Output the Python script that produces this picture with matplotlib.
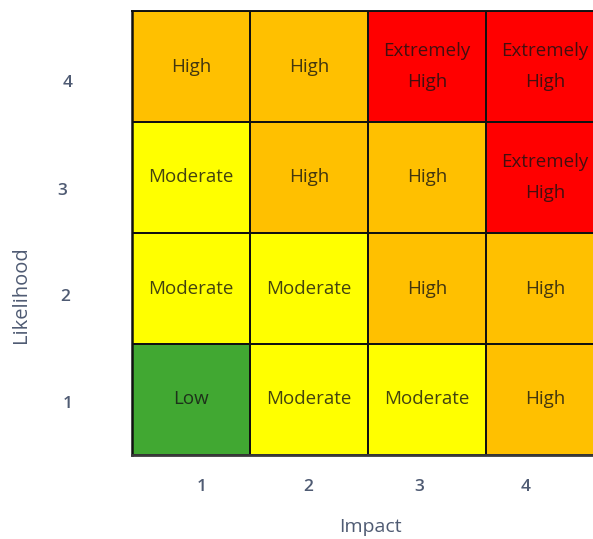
import matplotlib
matplotlib.use("Agg")
import matplotlib.pyplot as plt
from matplotlib.colors import ListedColormap
import numpy as np

# Risk matrix: rows = likelihood 1..4 (bottom to top), columns = impact 1..4
impact = [1, 2, 3, 4]
likelihood = [1, 2, 3, 4]
risk_levels = ["Low", "Moderate", "High", "Extremely High"]
level_colors = ["#41A832", "#FFFF00", "#FFC000", "#FF0000"]
risk_matrix = [
    ["Low", "Moderate", "Moderate", "High"],                      # likelihood 1
    ["Moderate", "Moderate", "High", "High"],                     # likelihood 2
    ["Moderate", "High", "High", "Extremely High"],               # likelihood 3
    ["High", "High", "Extremely High", "Extremely High"],         # likelihood 4
]

W, H, DPI = 593, 539, 100
fig = plt.figure(figsize=(W / DPI, H / DPI), dpi=DPI)
fig.patch.set_facecolor("white")

cell_w = 118.0  # px per column
ax_left, ax_top, ax_bottom = 132, 11, 455
ax = fig.add_axes([ax_left / W, 1 - ax_bottom / H, (W - ax_left) / W, (ax_bottom - ax_top) / H])

codes = np.array([[risk_levels.index(v) for v in row] for row in risk_matrix])
xe = np.arange(len(impact) + 1) + 0.5
ye = np.arange(len(likelihood) + 1) + 0.5
ax.pcolormesh(xe, ye, codes, cmap=ListedColormap(level_colors), vmin=-0.5, vmax=3.5,
              edgecolors="#111111", linewidth=1.1)

ax.set_xlim(0.5, 0.5 + (W - ax_left) / cell_w)
ax.set_ylim(0.5, 4.5)

font = "Open Sans"
for i, li in enumerate(likelihood):
    for j, im in enumerate(impact):
        label = risk_matrix[i][j].replace("Extremely ", "Extremely\n")
        ax.text(im, li, label, ha="center", va="center", fontsize=13.5, family=font,
                color="#141414", alpha=0.8, linespacing=1.9)

for s in ax.spines.values():
    s.set_visible(False)
ax.plot([0.5, 0.5], [0.5, 4.5], color="#111111", lw=1.8, clip_on=False)
ax.plot([0.5, 5], [0.5, 0.5], color="#3a3a3a", lw=2.0, clip_on=False)
ax.plot([0.5, 5], [4.5, 4.5], color="#111111", lw=1.4, clip_on=False)

ax.set_xticks([])
ax.set_yticks([])

tick_color = "#4F5B73"
x_tick_px = [202, 308, 419, 526]
y_tick_px = [404, 297, 191, 83]
y_tick_x = [68, 65, 62, 68]
for v, px in zip(impact, x_tick_px):
    fig.text(px / W, 1 - 487 / H, str(v), ha="center", va="center", fontsize=12.5,
             family=font, color=tick_color, fontweight="semibold")
for v, py, px in zip(likelihood, y_tick_px, y_tick_x):
    fig.text(px / W, 1 - py / H, str(v), ha="center", va="center", fontsize=12.5,
             family=font, color=tick_color, fontweight="semibold")

fig.text(370 / W, 1 - 527 / H, "Impact", ha="center", va="center", fontsize=14,
         family=font, color=tick_color)
fig.text(21 / W, 1 - 295 / H, "Likelihood", ha="center", va="center", fontsize=14.5,
         family=font, color=tick_color, rotation=90)

fig.savefig("out.png", dpi=DPI)
